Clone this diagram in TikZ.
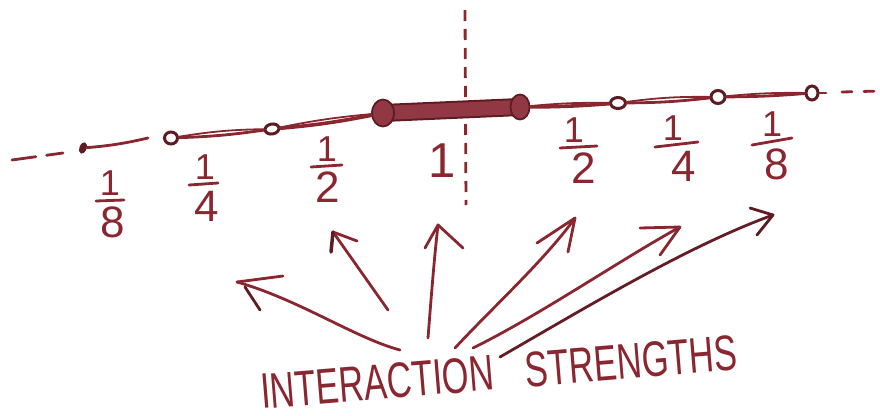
\documentclass[tikz,border=0pt]{standalone}
\usepackage{fontspec}
\setmainfont{Liberation Sans}
\newfontfamily\narrowfont[FakeStretch=0.69]{Liberation Sans}
\usetikzlibrary{shapes.geometric}
\definecolor{ink}{RGB}{138,38,48}
\definecolor{inkd}{RGB}{92,28,34}
\definecolor{beadc}{RGB}{146,56,68}
\begin{document}
\begin{tikzpicture}[x=1pt,y=-1pt,
  pen/.style={draw=ink, line width=2.8pt, line cap=round, line join=round},
  fine/.style={draw=ink, line width=1.8pt, line cap=round},
  knot/.style={ellipse, draw=inkd, line width=3pt, fill=white, inner sep=0pt},
  blob/.style={ellipse, draw=inkd, line width=1.8pt, fill=beadc, inner sep=0pt},
  num/.style={inner sep=0pt, text=ink, font=\fontsize{36}{36}\selectfont, anchor=south},
  den/.style={inner sep=0pt, text=ink, font=\fontsize{44}{44}\selectfont, anchor=north},
  word/.style={inner sep=0pt, text=ink, font=\narrowfont\fontsize{50}{50}\selectfont, anchor=base west},
]
\useasboundingbox (0,0) rectangle (880,415);

% vertical dashed line
\coordinate (vt) at (465,10);
\coordinate (vb) at (466,205);
\draw[ink, line width=2.8pt, dash pattern=on 11pt off 8pt] (vt) -- (vb);

% left dashes and dot
\coordinate (ld1) at (12,160);
\coordinate (ld2) at (63,153);
\draw[pen, dash pattern=on 24pt off 11pt] (ld1) -- (ld2);
\node[ellipse, fill=inkd, minimum width=7pt, minimum height=12pt, inner sep=0pt, rotate=-20] (d8) at (83,148) {};
\coordinate (le) at (148,138);
\draw[pen] (d8) to[bend right=4] (le);

% knots
\node[knot, minimum width=13pt, minimum height=12pt] (k1) at (171,138) {};
\node[knot, minimum width=14pt, minimum height=10pt, rotate=10] (k2) at (272,129) {};
\node[knot, minimum width=15pt, minimum height=11pt] (k3) at (618,103) {};
\node[knot, minimum width=14pt, minimum height=13pt] (k4) at (718,97) {};
\node[knot, minimum width=12pt, minimum height=14pt] (k5) at (812,93) {};

% bead body
\coordinate (blc) at (383,113);
\coordinate (brc) at (520,107);
\draw[inkd, line width=18pt] (blc) -- (brc);
\draw[beadc, line width=14pt] (blc) -- (brc);
\node[blob, minimum width=22pt, minimum height=27pt] (bl) at (blc) {};
\node[blob, minimum width=19pt, minimum height=25pt] (br) at (brc) {};

% connecting strands
\draw[pen] (k1) to[bend right=3] (k2);
\draw[fine] (k1) to[bend left=4] (k2);
\draw[pen, line width=3.6pt] (k2) to[bend right=3] (bl);
\draw[fine] (k2) to[bend left=3] (bl);
\draw[pen, line width=3.6pt] (br) to[bend right=2] (k3);
\draw[fine] (br) to[bend left=3] (k3);
\draw[pen] (k3) to[bend right=3] (k4);
\draw[fine] (k3) to[bend left=4] (k4);
\draw[pen] (k4) to[bend right=2] (k5);
\draw[fine] (k4) to[bend left=3] (k5);
\coordinate (re) at (826,93);
\draw[pen] (k5) -- (re);
\coordinate (rd1) at (842,92);
\coordinate (rd2) at (880,91);
\draw[pen, dash pattern=on 10pt off 12pt] (rd1) -- (rd2);

% fractions
\node[num] (n1) at (110,196) {1};
\draw[pen] (96,201) -- (124,200);
\node[den] (m1) at (113,207) {8};

\node[num] (n2) at (205,180) {1};
\draw[pen] (189,185) -- (218,183);
\node[den] (m2) at (207,191) {4};

\node[num] (n3) at (327,162) {1};
\draw[pen] (311,167) -- (342,165);
\node[den] (m3) at (328,172) {2};

\node[text=ink, inner sep=0pt, font=\fontsize{49}{49}\selectfont] (one) at (442,161) {1};

\node[num] (n4) at (574,143) {1};
\draw[pen] (560,148) -- (597,146);
\node[den] (m4) at (584,153) {2};

\node[num] (n5) at (673,141) {1};
\draw[pen] (655,147) -- (698,142);
\node[den] (m5) at (684,151) {4};

\node[num] (n6) at (772,137) {1};
\draw[pen] (752,145) -- (792,138);
\node[den] (m6) at (777,149) {8};

% label
\node[word, rotate=4.7] (w) at (262,409) {INTERACTION\hspace{0.63em}STRENGTHS};

% arrows
\coordinate (a1s) at (400,350); \coordinate (a1t) at (237,282);
\draw[pen] (a1s) .. controls (355,338) and (300,300) .. (a1t);
\draw[pen] (283,276) -- (a1t);
\draw[pen, draw=inkd] (245,287) -- (260,310);

\coordinate (a2s) at (388,310); \coordinate (a2t) at (333,232);
\draw[pen] (a2s) -- (a2t);
\draw[pen] (357,241) -- (a2t);
\draw[pen, draw=inkd, line width=3.5pt] (a2t) -- (331,252);

\coordinate (a3s) at (428,338); \coordinate (a3t) at (438,225);
\draw[pen] (a3s) .. controls (431,300) and (434,260) .. (a3t);
\draw[pen] (425,248) -- (a3t) -- (463,248);

\coordinate (a4s) at (455,348); \coordinate (a4t) at (575,218);
\draw[pen] (a4s) .. controls (490,310) and (545,260) .. (a4t);
\draw[pen] (537,243) -- (a4t) -- (568,252);

\coordinate (a5s) at (473,348); \coordinate (a5t) at (680,227);
\draw[pen] (a5s) .. controls (540,315) and (620,260) .. (a5t);
\draw[pen] (640,228) -- (a5t) -- (660,255);

\coordinate (a6s) at (500,357); \coordinate (a6t) at (773,215);
\draw[pen, draw=inkd!85!ink] (a6s) .. controls (590,305) and (690,245) .. (a6t);
\draw[pen, draw=inkd] (750,208) -- (a6t) -- (757,235);
\end{tikzpicture}
\end{document}
